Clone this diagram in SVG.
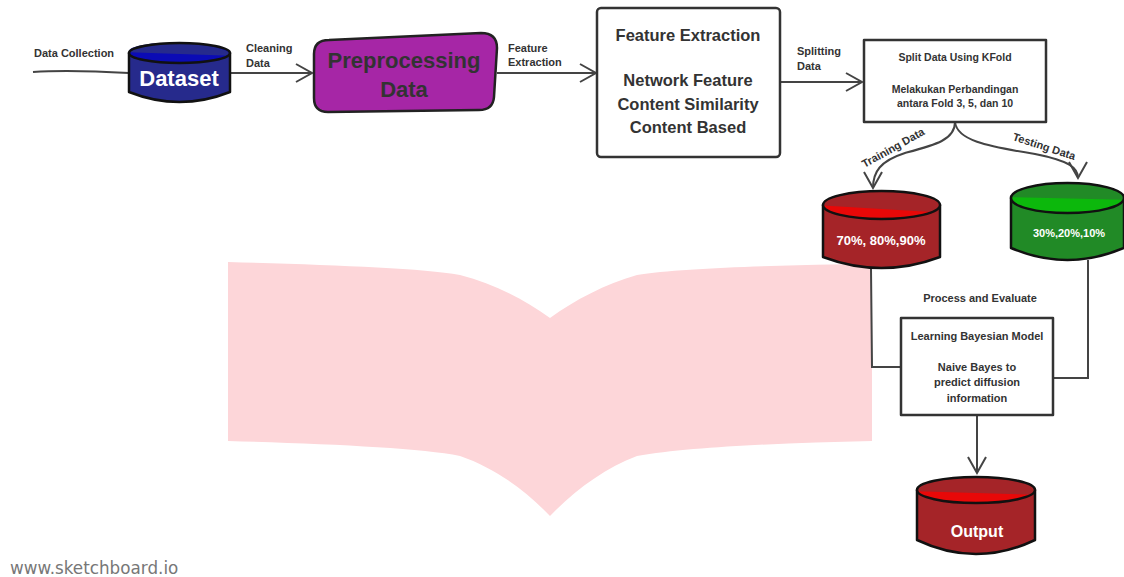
<svg xmlns="http://www.w3.org/2000/svg" width="1124" height="577" viewBox="0 0 1124 577">
<style>
.lbl{font-family:"Liberation Sans",Arial,sans-serif;font-weight:bold;font-size:11px;fill:#333}
.box{fill:#fff;stroke:#333;stroke-width:2.5;stroke-linejoin:round}
.cyl{stroke:#111;stroke-width:2.5;stroke-linejoin:round}
.conn{fill:none;stroke:#444;stroke-width:2}
.wt{font-family:"Liberation Sans",Arial,sans-serif;font-weight:bold;fill:#fff;text-anchor:middle}
.bt{font-family:"Liberation Sans",Arial,sans-serif;font-weight:bold;fill:#333;text-anchor:middle}
</style>
<defs>
<marker id="arr" markerUnits="userSpaceOnUse" markerWidth="24" markerHeight="24" viewBox="-20 -12 24 24" refX="0" refY="0" orient="auto" overflow="visible">
<path d="M-16,-9 L0,0 L-16,9" fill="none" stroke="#444" stroke-width="2"/>
</marker>
<clipPath id="cDs"><ellipse cx="179.5" cy="53" rx="50.5" ry="10"/></clipPath>
<clipPath id="cTr"><ellipse cx="881.5" cy="205" rx="58.5" ry="14"/></clipPath>
<clipPath id="cTe"><ellipse cx="1067.5" cy="198" rx="56.5" ry="15"/></clipPath>
<clipPath id="cOut"><ellipse cx="976" cy="490" rx="59" ry="13"/></clipPath>
</defs>

<path id="pink-shape" d="M228,262 C330,265 420,268 460,275 C495,284 525,300 550,318 C575,300 605,284 637,275 C680,268 780,265 872,264 L872,441 C780,443 690,447 637,456 C605,468 575,490 550,516 C525,490 495,468 460,456 C420,448 330,444 228,441 Z" fill="#fdd6d9"/>

<g id="connectors">
<path class="conn" d="M33,72 C60,70 95,71 129,73"/>
<path class="conn" d="M230,73 L312,73" marker-end="url(#arr)"/>
<path class="conn" d="M497,73 L596,73" marker-end="url(#arr)"/>
<path class="conn" d="M780,82 L862,82" marker-end="url(#arr)"/>
<path class="conn" d="M955,122 C955,140 935,145 905,153 C880,161 873,172 873,188" marker-end="url(#arr)"/>
<path class="conn" d="M955,122 C957,140 985,146 1035,154 C1070,161 1078,168 1078,178" marker-end="url(#arr)"/>
<path class="conn" d="M871,269 L872,367 L901,367"/>
<path class="conn" d="M1088,260 L1088,378 L1053,378"/>
<path class="conn" d="M977,415 L977,473" marker-end="url(#arr)"/>
<text class="lbl" x="34" y="57">Data Collection</text>
<text class="lbl" x="246" y="52">Cleaning</text>
<text class="lbl" x="246" y="67">Data</text>
<text class="lbl" x="508" y="52">Feature</text>
<text class="lbl" x="508" y="66">Extraction</text>
<text class="lbl" x="797" y="55">Splitting</text>
<text class="lbl" x="797" y="70">Data</text>
<text class="lbl" text-anchor="middle" transform="translate(895,151) rotate(-29)">Training Data</text>
<text class="lbl" text-anchor="middle" transform="translate(1043,150) rotate(18)">Testing Data</text>
<text class="lbl" text-anchor="middle" x="980" y="302">Process and Evaluate</text>
</g>

<g id="dataset">
<path class="cyl" fill="#262a8c" d="M129,53 L129,92 Q179.5,112 230,92 L230,53 Z"/>
<ellipse cx="179.5" cy="53" rx="50.5" ry="10" fill="#0b0bb5"/>
<rect x="125" y="40" width="110" height="14" fill="#262a8c" clip-path="url(#cDs)" transform="rotate(2 179 53)"/>
<ellipse class="cyl" cx="179.5" cy="53" rx="50.5" ry="10" fill="none"/>
<text class="wt" x="179" y="86" font-size="22">Dataset</text>
</g>

<g id="preprocessing">
<path d="M329,40 L481,33 Q497,33 497,48 L494,97 Q493,110 479,110 L328,112 Q314,112 314,98 L314,54 Q314,40 329,40 Z" fill="#a626a6" stroke="#222" stroke-width="2.5"/>
<text class="bt" x="404" y="68" font-size="22">Preprocessing</text>
<text class="bt" x="404" y="97" font-size="22">Data</text>
</g>

<g id="feature-extraction">
<rect class="box" x="597" y="8" width="183" height="149" rx="4"/>
<text class="bt" x="688" y="41" font-size="16.5">Feature Extraction</text>
<text class="bt" x="688" y="86" font-size="16.5">Network Feature</text>
<text class="bt" x="688" y="110" font-size="16.5">Content Similarity</text>
<text class="bt" x="688" y="133" font-size="16.5">Content Based</text>
</g>

<g id="split">
<rect class="box" x="864" y="40" width="182" height="82"/>
<text class="bt" x="955" y="61" font-size="10.5">Split Data Using KFold</text>
<text class="bt" x="955" y="93" font-size="10.5">Melakukan Perbandingan</text>
<text class="bt" x="955" y="107" font-size="10.5">antara Fold 3, 5, dan 10</text>
</g>

<g id="training">
<path class="cyl" fill="#a52428" d="M823,205 L823,257 Q881.5,279 940,257 L940,205 Z"/>
<ellipse cx="881.5" cy="205" rx="58.5" ry="14" fill="#e80808"/>
<polygon points="815,185 950,185 950,213 815,205" fill="#a52428" clip-path="url(#cTr)"/>
<ellipse class="cyl" cx="881.5" cy="205" rx="58.5" ry="14" fill="none"/>
<text class="wt" x="881" y="245" font-size="13">70%, 80%,90%</text>
</g>

<g id="testing">
<path class="cyl" fill="#218a26" d="M1011,198 L1011,248 Q1067.5,272 1124,248 L1124,198 Z"/>
<ellipse cx="1067.5" cy="198" rx="56.5" ry="15" fill="#0cb80c"/>
<polygon points="1005,178 1130,178 1130,200 1005,197" fill="#218a26" clip-path="url(#cTe)"/>
<ellipse class="cyl" cx="1067.5" cy="198" rx="56.5" ry="15" fill="none"/>
<text class="wt" x="1069" y="237" font-size="11">30%,20%,10%</text>
</g>

<g id="learning">
<rect class="box" x="901" y="318" width="152" height="97"/>
<text class="bt" x="977" y="340" font-size="11">Learning Bayesian Model</text>
<text class="bt" x="977" y="371" font-size="11">Naive Bayes to</text>
<text class="bt" x="977" y="386" font-size="11">predict diffusion</text>
<text class="bt" x="977" y="402" font-size="11">information</text>
</g>

<g id="output">
<path class="cyl" fill="#a52428" d="M917,490 L917,540 Q976,568 1035,540 L1035,490 Z"/>
<ellipse cx="976" cy="490" rx="59" ry="13" fill="#e80808"/>
<polygon points="910,470 1042,470 1042,495 910,491" fill="#a52428" clip-path="url(#cOut)"/>
<ellipse class="cyl" cx="976" cy="490" rx="59" ry="13" fill="none"/>
<text class="wt" x="977" y="537" font-size="16">Output</text>
</g>

<text x="10" y="574" font-family="'DejaVu Sans',Verdana,sans-serif" font-size="16.8" fill="#777">www.sketchboard.io</text>
</svg>
